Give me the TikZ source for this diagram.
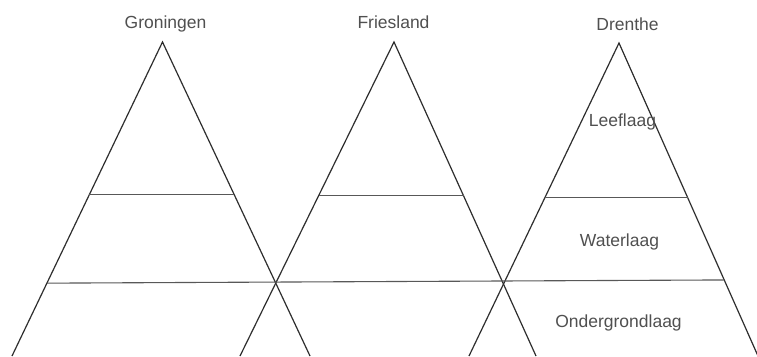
\documentclass[tikz,border=0pt]{standalone}
\usepackage{fontspec}
\setmainfont{Liberation Sans}
\usetikzlibrary{calc}
\definecolor{linegray}{HTML}{2E2E2E}
\definecolor{textgray}{HTML}{505050}
\begin{document}
\begin{tikzpicture}[x=1pt,y=-1pt,
  side/.style={draw=linegray,line width=1.2pt},
  layer/.style={draw=linegray!80,line width=1.1pt},
  lbl/.style={text=textgray,font=\fontsize{17.5}{20}\selectfont,anchor=base,inner sep=0pt}]
\useasboundingbox[fill=white] (0,0) rectangle (757,356);
% apexes and base points
\coordinate (A1) at (162.5,42);
\coordinate (L1) at (12,356);
\coordinate (R1) at (310,356);
\coordinate (A2) at (394,42);
\coordinate (L2) at (240,356);
\coordinate (R2) at (536,356);
\coordinate (A3) at (619,43);
\coordinate (L3) at (469,356);
\coordinate (R3) at (758,356);
% triangle sides
\draw[side] (L1) -- (A1) -- (R1);
\draw[side] (L2) -- (A2) -- (R2);
\draw[side] (L3) -- (A3) -- (R3);
% layer lines
\coordinate (u1l) at ($(A1)!0.487!(L1)$);
\coordinate (u1r) at ($(A1)!0.487!(R1)$);
\coordinate (u2l) at ($(A2)!0.490!(L2)$);
\coordinate (u2r) at ($(A2)!0.490!(R2)$);
\coordinate (u3l) at ($(A3)!0.495!(L3)$);
\coordinate (u3r) at ($(A3)!0.495!(R3)$);
\coordinate (lowl) at ($(A1)!0.768!(L1)$);
\coordinate (lowr) at ($(A3)!0.757!(R3)$);
\draw[layer] (u1l) -- (u1r);
\draw[layer] (u2l) -- (u2r);
\draw[layer] (u3l) -- (u3r);
\draw[layer] (lowl) -- (lowr);
% labels
\node[lbl] (groningen) at (165.5,28) {Groningen};
\node[lbl] (friesland) at (393.5,28) {Friesland};
\node[lbl] (drenthe) at (627.5,30) {Drenthe};
\node[lbl] (leeflaag) at (622.5,126) {Leeflaag};
\node[lbl] (waterlaag) at (619.5,246) {Waterlaag};
\node[lbl] (onder) at (618.5,327) {Ondergrondlaag};
\end{tikzpicture}
\end{document}
